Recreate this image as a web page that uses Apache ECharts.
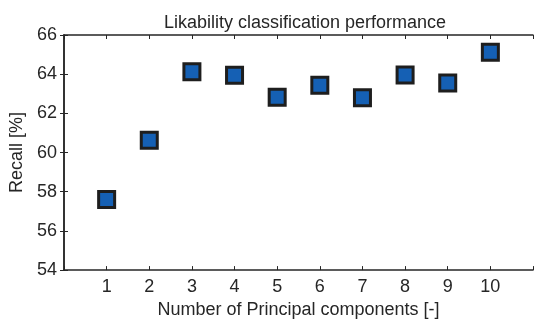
<!DOCTYPE html>
<html><head><meta charset="utf-8">
<script src="https://cdn.jsdelivr.net/npm/echarts@6/dist/echarts.min.js"></script>
<style>html,body{margin:0;padding:0;background:#fff}#c{width:536px;height:324px}</style>
</head><body><div id="c"></div>
<script>
const components = [1, 2, 3, 4, 5, 6, 7, 8, 9, 10];
const recall = [57.6, 60.63, 64.12, 63.95, 62.82, 63.43, 62.8, 63.96, 63.55, 65.12];
const yTicks = [54, 56, 58, 60, 62, 64, 66];

const font = 'Liberation Sans, Arial, sans-serif';
const txt = '#262626';
const fs = 18;
const chart = echarts.init(document.getElementById('c'), null, {renderer: 'canvas'});
const axisLine = {show: true, lineStyle: {color: '#262626', width: 1.5}};
const tick = {show: true, inside: true, length: 4, lineStyle: {color: '#262626', width: 1}};
chart.setOption({
  animation: false,
  title: {text: 'Likability classification performance', left: 300, top: 9, textAlign: 'center',
    textStyle: {fontFamily: font, fontSize: fs, fontWeight: 'normal', color: txt}},
  grid: {left: 64, right: 0, top: 35, bottom: 50, containLabel: false},
  xAxis: [{
    type: 'value', min: 0, max: 11, interval: 1, position: 'bottom',
    name: 'Number of Principal components [-]', nameLocation: 'middle', nameGap: 30,
    nameTextStyle: {fontFamily: font, fontSize: fs, color: txt},
    axisLine: axisLine, axisTick: tick, splitLine: {show: false},
    axisLabel: {fontFamily: font, fontSize: fs, color: txt, margin: 8,
      formatter: v => components.includes(v) ? String(v) : ''}
  }, {
    type: 'value', min: 0, max: 11, interval: 1, position: 'top',
    axisLine: axisLine, axisTick: tick, splitLine: {show: false}, axisLabel: {show: false}
  }],
  yAxis: [{
    type: 'value', min: yTicks[0], max: yTicks[yTicks.length - 1], interval: 2,
    name: 'Recall [%]', nameLocation: 'middle', nameGap: 37,
    nameTextStyle: {fontFamily: font, fontSize: fs, color: txt},
    axisLine: axisLine, axisTick: tick, splitLine: {show: false},
    axisLabel: {fontFamily: font, fontSize: fs, color: txt, margin: 7}
  }, {
    type: 'value', min: yTicks[0], max: yTicks[yTicks.length - 1], interval: 2, position: 'right',
    axisLine: axisLine, axisTick: tick, splitLine: {show: false}, axisLabel: {show: false}
  }],
  series: [{
    type: 'scatter', symbol: 'rect', symbolSize: 16,
    data: components.map((c, i) => [c, recall[i]]),
    itemStyle: {color: '#1560b4', borderColor: '#1e1e1e', borderWidth: 3, opacity: 1}
  }]
});
</script></body></html>
